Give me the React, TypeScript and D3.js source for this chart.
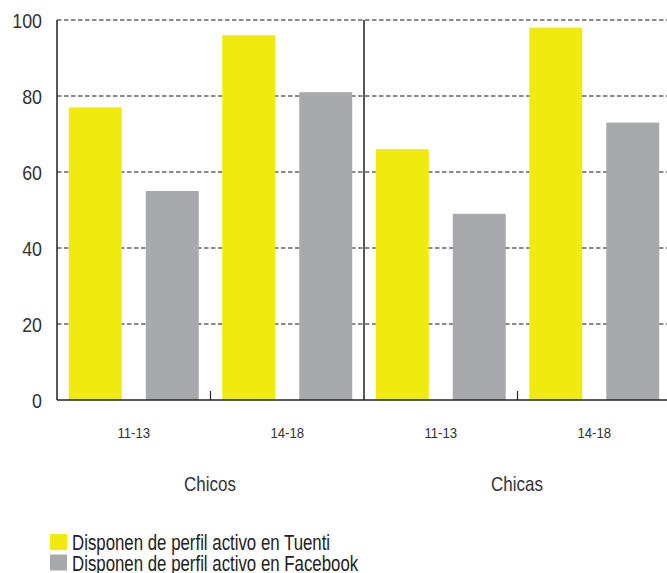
import React from "react";
import * as d3 from "d3";

const groups = ["Chicos", "Chicas"];
const ageBands = ["11-13", "14-18"];
const seriesNames = ["Disponen de perfil activo en Tuenti", "Disponen de perfil activo en Facebook"];
const seriesColors = ["#F0EA0E", "#A8A9AD"];
const tuentiValues = [77, 96, 66, 98];
const facebookValues = [55, 81, 49, 73];
const yTicks = [0, 20, 40, 60, 80, 100];

const W = 667;
const H = 573;
const left = 57;
const right = 671;
const top = 20;
const bottom = 400;
const FONT = "'Liberation Sans', Arial, sans-serif";

function T({ x, y, size, anchor, children, fill = "#333", sx = 0.85 }: any) {
  return (
    <text
      transform={`translate(${x},${y}) scale(${sx},1)`}
      fontFamily={FONT}
      fontSize={size}
      textAnchor={anchor}
      fill={fill}
    >
      {children}
    </text>
  );
}

export default function App() {
  const y = d3.scaleLinear().domain([0, 100]).range([bottom, top]);
  const xGroup = d3.scaleBand<string>().domain(groups).range([left, right]).padding(0);
  const xAge = d3.scaleBand<string>().domain(ageBands).range([0, xGroup.bandwidth()]).padding(0);
  const xSeries = d3
    .scaleBand<number>()
    .domain([0, 1])
    .range([0, xAge.bandwidth()])
    .paddingInner(0.312)
    .paddingOuter(0.153);

  const seriesValues = [tuentiValues, facebookValues];

  const bars: any[] = [];
  groups.forEach((g, gi) => {
    ageBands.forEach((a, ai) => {
      const idx = gi * ageBands.length + ai;
      seriesValues.forEach((vals, si) => {
        const x0 = (xGroup(g) as number) + (xAge(a) as number) + (xSeries(si) as number);
        bars.push(
          <rect
            key={`${g}-${a}-${si}`}
            x={x0}
            y={y(vals[idx])}
            width={xSeries.bandwidth()}
            height={bottom - y(vals[idx])}
            fill={seriesColors[si]}
          />
        );
      });
    });
  });

  return (
    <svg width={W} height={H} style={{ position: "absolute", left: 0, top: 0, background: "#fff" }}>
      {yTicks
        .filter((t) => t > 0)
        .map((t) => (
          <line
            key={`g${t}`}
            x1={left}
            x2={W}
            y1={y(t)}
            y2={y(t)}
            stroke="#666"
            strokeWidth={1.6}
            strokeDasharray="4.5,2.5"
          />
        ))}
      {bars}
      <line x1={left} x2={left} y1={top} y2={bottom} stroke="#222" strokeWidth={1.5} />
      <line x1={left} x2={W} y1={bottom} y2={bottom} stroke="#222" strokeWidth={1.5} />
      <line
        x1={xGroup("Chicas") as number}
        x2={xGroup("Chicas") as number}
        y1={top}
        y2={bottom}
        stroke="#222"
        strokeWidth={1.5}
      />
      {groups.map((g) => (
        <line
          key={`t${g}`}
          x1={(xGroup(g) as number) + (xAge("14-18") as number)}
          x2={(xGroup(g) as number) + (xAge("14-18") as number)}
          y1={bottom - 9}
          y2={bottom}
          stroke="#222"
          strokeWidth={1.2}
        />
      ))}
      {yTicks.map((t) => (
        <T key={`yl${t}`} x={42} y={y(t) + 7.5} size={21} anchor="end">
          {t}
        </T>
      ))}
      {groups.map((g) =>
        ageBands.map((a) => (
          <T
            key={`al${g}${a}`}
            x={(xGroup(g) as number) + (xAge(a) as number) + xAge.bandwidth() / 2}
            y={438}
            size={15.5}
            anchor="middle"
          >
            {a}
          </T>
        ))
      )}
      {groups.map((g) => (
        <T key={`gl${g}`} x={(xGroup(g) as number) + xGroup.bandwidth() / 2 - 0.5} y={490.5} size={20} anchor="middle">
          {g}
        </T>
      ))}
      {seriesNames.map((s, i) => (
        <g key={`lg${i}`}>
          <rect x={50} y={534 + i * 20.5} width={17} height={16} fill={seriesColors[i]} />
          <T x={72} y={550 + i * 20.5} size={22} anchor="start" fill="#222" sx={0.765}>
            {s}
          </T>
        </g>
      ))}
    </svg>
  );
}
